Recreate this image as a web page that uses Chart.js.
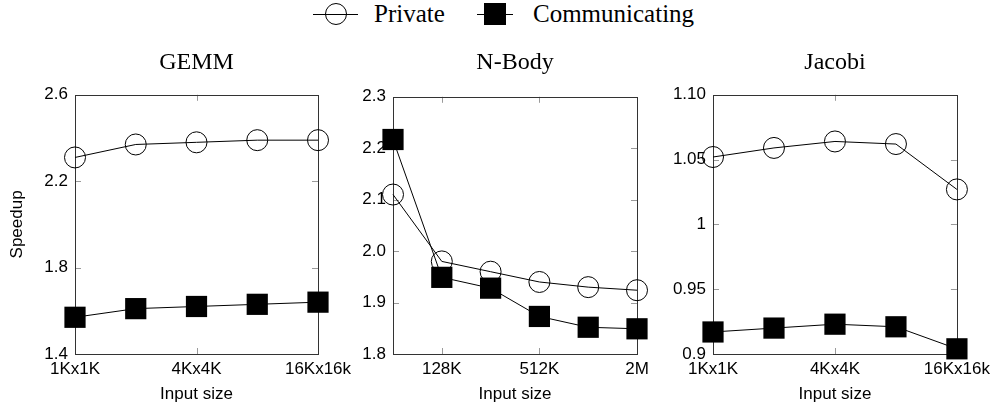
<!DOCTYPE html>
<html>
<head>
<meta charset="utf-8">
<script src="https://cdn.jsdelivr.net/npm/chart.js@4/dist/chart.umd.min.js"></script>
<style>
    html, body { margin: 0; padding: 0; background: #fff; }
    body { width: 995px; height: 412px; position: relative; overflow: hidden; }
    .panel { position: absolute; top: 40px; height: 372px; }
    .lg { position: absolute; top: 0; font-family: "Liberation Serif", "Times New Roman", serif; font-size: 25px; line-height: 28px; color: #000; }
    .sym { position: absolute; top: 3px; height: 22px; }
    .sym .ln { position: absolute; left: 0; right: 0; top: 11px; height: 1px; background: #000; }
    .sym .circ { position: absolute; left: 12px; top: 0; width: 20px; height: 20px; border: 1px solid #000; border-radius: 50%; }
    .sym .sq { position: absolute; left: 7px; top: 0; width: 22px; height: 22px; background: #000; }
</style>
</head>
<body>
<div class="sym" style="left:313px;width:45px;"><i class="ln"></i><i class="circ"></i></div>
<div class="lg" style="left:374px;">Private</div>
<div class="sym" style="left:477px;width:36px;"><i class="ln"></i><i class="sq"></i></div>
<div class="lg" style="left:533px;">Communicating</div>

<div class="panel" style="left:0px;width:358px;"><canvas id="chartGemm"></canvas></div>
<div class="panel" style="left:348px;width:329px;"><canvas id="chartNbody"></canvas></div>
<div class="panel" style="left:653px;width:342px;"><canvas id="chartJacobi"></canvas></div>

<script>
// GEMM
var gemmSizes = ['1Kx1K', '2Kx2K', '4Kx4K', '8Kx8K', '16Kx16k'];
var gemmXTicks = ['1Kx1K', '4Kx4K', '16Kx16k'];
var gemmPrivate = [2.31, 2.37, 2.38, 2.39, 2.39];
var gemmComm = [1.57, 1.61, 1.62, 1.63, 1.64];
var gemmYTicks = [1.4, 1.8, 2.2, 2.6];
var gemmYLabels = ['1.4', '1.8', '2.2', '2.6'];

// N-Body
var nbodySizes = ['64K', '128K', '256K', '512K', '1M', '2M'];
var nbodyXTicks = ['128K', '512K', '2M'];
var nbodyPrivate = [2.11, 1.98, 1.96, 1.94, 1.93, 1.924];
var nbodyComm = [2.217, 1.949, 1.928, 1.873, 1.852, 1.849];
var nbodyYTicks = [1.8, 1.9, 2.0, 2.1, 2.2, 2.3];
var nbodyYLabels = ['1.8', '1.9', '2.0', '2.1', '2.2', '2.3'];

// Jacobi
var jacobiSizes = ['1Kx1K', '2Kx2K', '4Kx4K', '8Kx8K', '16Kx16k'];
var jacobiXTicks = ['1Kx1K', '4Kx4K', '16Kx16k'];
var jacobiPrivate = [1.052, 1.059, 1.064, 1.062, 1.027];
var jacobiComm = [0.917, 0.920, 0.923, 0.921, 0.904];
var jacobiYTicks = [0.9, 0.95, 1, 1.05, 1.1];
var jacobiYLabels = ['0.9', '0.95', '1', '1.05', '1.10'];

var SANS = '"Liberation Sans", Arial, Helvetica, sans-serif';
var SERIF = '"Liberation Serif", "Times New Roman", serif';

// pgfplots style box with inward tick marks
var frameTicks = {
    id: 'frameTicks',
    beforeDatasetsDraw: function (chart) {
        var ctx = chart.ctx;
        var a = chart.chartArea;
        var x = chart.scales.x;
        var y = chart.scales.y;
        var len = 6;
        ctx.save();
        ctx.lineWidth = 1;
        ctx.strokeStyle = '#9a9a9a';
        ctx.beginPath();
        y.ticks.forEach(function (t) {
            var py = Math.round(y.getPixelForValue(t.value)) + 0.5;
            if (py <= a.top + 1 || py >= a.bottom - 1) return;
            ctx.moveTo(a.left, py); ctx.lineTo(a.left + len, py);
            ctx.moveTo(a.right, py); ctx.lineTo(a.right - len, py);
        });
        x.ticks.forEach(function (t, i) {
            if (!t.label) return;
            var px = Math.round(x.getPixelForTick(i)) + 0.5;
            if (px <= a.left + 1 || px >= a.right - 1) return;
            ctx.moveTo(px, a.top); ctx.lineTo(px, a.top + len);
            ctx.moveTo(px, a.bottom); ctx.lineTo(px, a.bottom - len);
        });
        ctx.stroke();
        ctx.strokeStyle = '#333';
        ctx.strokeRect(Math.round(a.left) + 0.5, Math.round(a.top) + 0.5,
            Math.round(a.right) - Math.round(a.left), Math.round(a.bottom) - Math.round(a.top));
        ctx.restore();
    }
};

function makePanel(id, p) {
    return new Chart(document.getElementById(id), {
        type: 'line',
        data: {
            labels: p.sizes,
            datasets: [
                {
                    label: 'Communicating',
                    data: p.comm,
                    order: 0,
                    borderColor: '#000',
                    borderWidth: 1,
                    pointStyle: 'rect',
                    pointRadius: 15,
                    pointBackgroundColor: '#000',
                    pointBorderColor: '#000',
                    pointBorderWidth: 0,
                    clip: false
                },
                {
                    label: 'Private',
                    data: p.priv,
                    order: 1,
                    borderColor: '#000',
                    borderWidth: 1,
                    pointStyle: 'circle',
                    pointRadius: 10.5,
                    pointBackgroundColor: 'rgba(0,0,0,0)',
                    pointBorderColor: '#000',
                    pointBorderWidth: 1,
                    clip: false
                }
            ]
        },
        options: {
            responsive: true,
            maintainAspectRatio: false,
            animation: false,
            events: [],
            layout: { padding: { left: 0, right: p.padRight, top: 0, bottom: 0 } },
            plugins: {
                legend: { display: false },
                tooltip: { enabled: false },
                title: {
                    display: true,
                    fullSize: false,
                    text: p.title,
                    color: '#000',
                    font: { family: SERIF, size: 24, weight: 'normal' },
                    padding: { top: 8, bottom: p.titleGap }
                }
            },
            scales: {
                x: {
                    type: 'category',
                    offset: false,
                    grid: { display: false, drawTicks: false },
                    border: { display: false },
                    ticks: {
                        autoSkip: false,
                        maxRotation: 0,
                        padding: 5,
                        color: '#000',
                        font: { family: SANS, size: 17 },
                        callback: function (v, i) {
                            var lab = p.sizes[i];
                            return p.xTicks.indexOf(lab) >= 0 ? lab : '';
                        }
                    },
                    title: {
                        display: true,
                        text: 'Input size',
                        color: '#000',
                        font: { family: SANS, size: 17 },
                        padding: { top: 0, bottom: 7 }
                    },
                    afterFit: function (s) { s.height = 58; }
                },
                y: {
                    min: p.yTicks[0],
                    max: p.yTicks[p.yTicks.length - 1],
                    grid: { display: false, drawTicks: false },
                    border: { display: false },
                    afterBuildTicks: function (s) {
                        s.ticks = p.yTicks.map(function (v) { return { value: v }; });
                    },
                    ticks: {
                        padding: 7,
                        color: '#000',
                        font: { family: SANS, size: 17 },
                        callback: function (v, i) { return p.yLabels[i]; }
                    },
                    title: {
                        display: !!p.yTitle,
                        text: p.yTitle || '',
                        color: '#000',
                        font: { family: SANS, size: 17 },
                        padding: { top: 7, bottom: 0 }
                    },
                    afterFit: function (s) { s.width = p.yWidth; }
                }
            }
        },
        plugins: [frameTicks]
    });
}

makePanel('chartGemm', {
    title: 'GEMM', sizes: gemmSizes, xTicks: gemmXTicks, priv: gemmPrivate, comm: gemmComm,
    yTicks: gemmYTicks, yLabels: gemmYLabels, yTitle: 'Speedup', yWidth: 75, padRight: 40, titleGap: 18
});
makePanel('chartNbody', {
    title: 'N-Body', sizes: nbodySizes, xTicks: nbodyXTicks, priv: nbodyPrivate, comm: nbodyComm,
    yTicks: nbodyYTicks, yLabels: nbodyYLabels, yWidth: 45, padRight: 40, titleGap: 20
});
makePanel('chartJacobi', {
    title: 'Jacobi', sizes: jacobiSizes, xTicks: jacobiXTicks, priv: jacobiPrivate, comm: jacobiComm,
    yTicks: jacobiYTicks, yLabels: jacobiYLabels, yWidth: 60, padRight: 38, titleGap: 18
});
</script>
</body>
</html>
